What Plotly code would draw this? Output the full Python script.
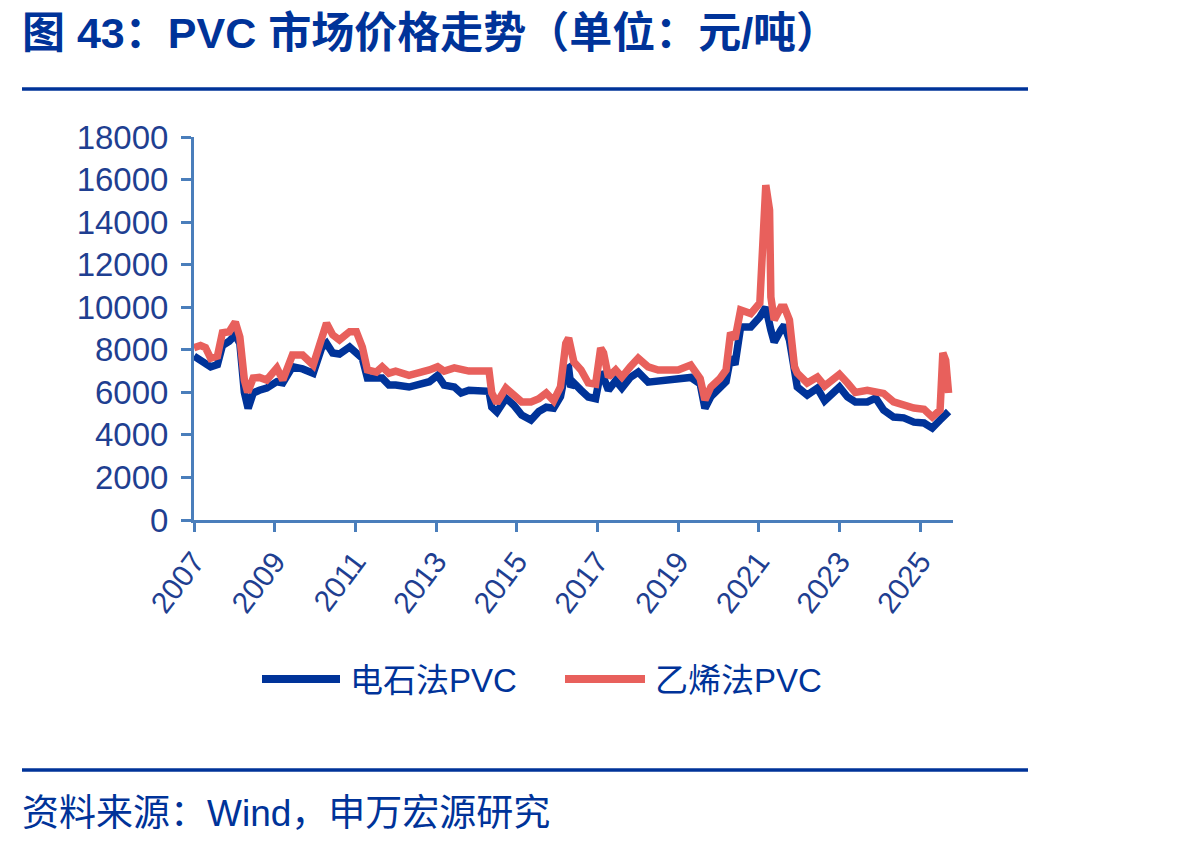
import plotly.graph_objects as go

# ---------------- data ----------------
carbide_dates = [
    "2007-01-01", "2007-03-01", "2007-06-01", "2007-08-01", "2007-09-15", "2007-11-15",
    "2008-01-10", "2008-02-20", "2008-04-01", "2008-05-05", "2008-06-20", "2008-08-15",
    "2008-10-20", "2009-01-20", "2009-03-15", "2009-06-10", "2009-09-10", "2009-12-15",
    "2010-03-01", "2010-04-15", "2010-06-10", "2010-08-10", "2010-11-10", "2011-01-10",
    "2011-03-05", "2011-04-20", "2011-07-10", "2011-09-01", "2011-11-01", "2012-01-01",
    "2012-05-01", "2012-08-01", "2012-11-01", "2013-01-15", "2013-03-15", "2013-06-15",
    "2013-08-15", "2013-10-25", "2014-01-25", "2014-04-25", "2014-05-20", "2014-07-05",
    "2014-09-25", "2014-12-05", "2015-02-15", "2015-05-10", "2015-07-20", "2015-09-25",
    "2015-12-01", "2016-02-01", "2016-03-20", "2016-04-15", "2016-05-05", "2016-06-01",
    "2016-08-05", "2016-10-10", "2016-12-15", "2017-01-30", "2017-02-25", "2017-04-10",
    "2017-06-15", "2017-08-10", "2017-10-25", "2018-01-05", "2018-04-05", "2018-07-05",
    "2018-10-05", "2019-01-01", "2019-04-25", "2019-07-20", "2019-09-01", "2019-10-25",
    "2020-01-15", "2020-03-10", "2020-04-20", "2020-05-30", "2020-07-20", "2020-10-20",
    "2021-01-10", "2021-03-05", "2021-04-20", "2021-05-20", "2021-07-20", "2021-08-20",
    "2021-10-05", "2021-11-20", "2021-12-15", "2022-03-15", "2022-06-15", "2022-08-20",
    "2023-01-01", "2023-03-15", "2023-05-25", "2023-09-10", "2023-11-25", "2024-02-05",
    "2024-05-05", "2024-08-05", "2024-11-05", "2025-02-05", "2025-04-20", "2025-06-30",
    "2025-08-20", "2025-09-15",
]
carbide_values = [
    7700, 7500, 7200, 7300, 8200, 8400,
    8700, 8300, 6000, 5250, 5970, 6100,
    6200, 6500, 6450, 7200, 7100, 6900,
    8080, 8300, 7850, 7800, 8130, 7850,
    7600, 6670, 6650, 6670, 6340, 6340,
    6250, 6340, 6500, 6800, 6340, 6250,
    5970, 6100, 6050, 6050, 5300, 5080,
    5730, 5400, 4930, 4700, 5100, 5300,
    5250, 5800, 7050, 7140, 6250, 6440,
    6100, 5780, 5700, 6950, 6700, 6100,
    6550, 6200, 6700, 6950, 6480, 6550,
    6550, 6600, 6700, 6400, 5250, 5800,
    6300, 6500, 7650, 7300, 9070, 9070,
    9540, 10000, 8930, 8360, 8930, 9150,
    8460, 6580, 6250, 5870, 6200, 5600,
    6250, 5780, 5550, 5550, 5730, 5170,
    4840, 4800, 4600, 4560, 4320, 4700,
    5030, 5100,
]

ethylene_dates = [
    "2007-01-01", "2007-03-01", "2007-04-15", "2007-06-01", "2007-08-01", "2007-09-15",
    "2007-11-15", "2008-01-10", "2008-02-20", "2008-04-01", "2008-05-01", "2008-06-20",
    "2008-08-15", "2008-10-20", "2009-01-20", "2009-03-15", "2009-06-10", "2009-09-10",
    "2009-12-15", "2010-03-01", "2010-04-15", "2010-06-10", "2010-08-10", "2010-11-10",
    "2011-01-10", "2011-03-05", "2011-04-20", "2011-07-10", "2011-09-01", "2011-11-01",
    "2012-01-01", "2012-05-01", "2012-08-01", "2012-11-01", "2013-01-15", "2013-03-15",
    "2013-06-15", "2013-08-15", "2013-10-25", "2014-01-25", "2014-04-25", "2014-05-20",
    "2014-07-05", "2014-09-25", "2014-12-05", "2015-02-15", "2015-05-10", "2015-07-20",
    "2015-09-25", "2015-12-01", "2016-02-01", "2016-03-20", "2016-04-15", "2016-05-05",
    "2016-06-01", "2016-08-05", "2016-10-10", "2016-12-15", "2017-01-30", "2017-02-25",
    "2017-04-10", "2017-06-15", "2017-08-10", "2017-10-25", "2018-01-05", "2018-04-05",
    "2018-07-05", "2018-10-05", "2019-01-01", "2019-04-25", "2019-07-20", "2019-09-01",
    "2019-10-25", "2020-01-15", "2020-03-10", "2020-04-20", "2020-05-30", "2020-07-20",
    "2020-10-20", "2021-01-10", "2021-02-05", "2021-03-05", "2021-04-08", "2021-04-20",
    "2021-05-20", "2021-07-20", "2021-08-20", "2021-10-05", "2021-11-20", "2021-12-15",
    "2022-03-15", "2022-06-15", "2022-08-20", "2023-01-01", "2023-03-15", "2023-05-25",
    "2023-09-10", "2023-11-25", "2024-02-05", "2024-05-05", "2024-08-05", "2024-11-05",
    "2025-02-05", "2025-04-20", "2025-06-30", "2025-07-25", "2025-08-20", "2025-09-15",
]
ethylene_values = [
    8100, 8200, 8100, 7600, 7700, 8800,
    8850, 9300, 8600, 6580, 6000, 6670,
    6700, 6580, 7140, 6580, 7750, 7750,
    7280, 8460, 9250, 8700, 8460, 8850,
    8850, 8130, 7050, 6950, 7200, 6900,
    7000, 6800, 6900, 7050, 7200, 7000,
    7150, 7050, 7000, 7000, 7000, 5970,
    5500, 6200, 5860, 5550, 5550, 5700,
    5970, 5600, 6250, 8300, 8550, 8000,
    7430, 7050, 6440, 6380, 8080, 7850,
    6720, 7050, 6720, 7200, 7600, 7200,
    7050, 7050, 7050, 7280, 6650, 5640,
    6250, 6650, 7050, 8800, 8500, 9870,
    9700, 10200, 13300, 15740, 14570, 10480,
    9400, 10000, 10000, 9400, 7200, 6900,
    6440, 6720, 6300, 6850, 6440, 6000,
    6100, 6000, 5950, 5550, 5400, 5260,
    5200, 4840, 5170, 7850, 7500, 5970,
]

series_names = ["电石法PVC", "乙烯法PVC"]
year_ticks = ["2007", "2009", "2011", "2013", "2015", "2017", "2019", "2021", "2023", "2025"]
y_ticks = [0, 2000, 4000, 6000, 8000, 10000, 12000, 14000, 16000, 18000]

title_text = "图 43：PVC 市场价格走势（单位：元/吨）"
source_text = "资料来源：Wind，申万宏源研究"

# ---------------- styling ----------------
BLUE = "#003399"
RED = "#E8605C"
AXIS = "#4A7EBB"
TICKTXT = "#1F3F91"
W, H = 1198, 846
L, R, T, B = 194, 245, 137, 326
PW, PH = W - L - R, H - T - B


def px(x):
    return (x - L) / PW


def py(y):
    return (H - B - y) / PH


fig = go.Figure()
fig.add_trace(go.Scatter(x=carbide_dates, y=carbide_values, mode="lines",
                         name=series_names[0], line=dict(color=BLUE, width=7.5),
                         showlegend=False))
fig.add_trace(go.Scatter(x=ethylene_dates, y=ethylene_values, mode="lines",
                         name=series_names[1], line=dict(color=RED, width=7.5),
                         showlegend=False))

shapes = [
    dict(type="line", xref="paper", yref="paper", x0=px(22), x1=px(1028), y0=py(89), y1=py(89),
         line=dict(color=BLUE, width=3.5)),
    dict(type="line", xref="paper", yref="paper", x0=px(22), x1=px(1028), y0=py(770), y1=py(770),
         line=dict(color=BLUE, width=3.5)),
    dict(type="line", xref="paper", yref="paper", x0=px(262), x1=px(340), y0=py(679), y1=py(679),
         line=dict(color=BLUE, width=8)),
    dict(type="line", xref="paper", yref="paper", x0=px(565), x1=px(645), y0=py(679), y1=py(679),
         line=dict(color=RED, width=8)),
]

CJK = "Liberation Sans, Arial, Noto Sans CJK SC, sans-serif"
annotations = [
    dict(text="<b>" + title_text + "</b>", xref="paper", yref="paper", x=px(20), y=py(33),
         xanchor="left", yanchor="middle", showarrow=False,
         font=dict(family=CJK, size=43, color=BLUE)),
    dict(text=source_text, xref="paper", yref="paper", x=px(20), y=py(813),
         xanchor="left", yanchor="middle", showarrow=False,
         font=dict(family=CJK, size=37, color=BLUE)),
    dict(text=series_names[0], xref="paper", yref="paper", x=px(348), y=py(680),
         xanchor="left", yanchor="middle", showarrow=False,
         font=dict(family=CJK, size=33, color=BLUE)),
    dict(text=series_names[1], xref="paper", yref="paper", x=px(653), y=py(680),
         xanchor="left", yanchor="middle", showarrow=False,
         font=dict(family=CJK, size=33, color=BLUE)),
]

fig.update_layout(
    width=W, height=H,
    margin=dict(l=L, r=R, t=T, b=B, pad=0),
    paper_bgcolor="white", plot_bgcolor="white",
    shapes=shapes, annotations=annotations,
    showlegend=False,
    xaxis=dict(
        type="date", range=["2007-01-01", "2025-10-25"],
        tickvals=[y + "-01-01" for y in year_ticks], ticktext=year_ticks,
        tickangle=-53, ticks="outside", ticklen=9, tickwidth=2.5, tickcolor=AXIS,
        showline=True, linecolor=AXIS, linewidth=3, showgrid=False, zeroline=False,
        tickfont=dict(family="Liberation Sans, Arial", size=30, color=TICKTXT),
    ),
    yaxis=dict(
        range=[0, 18000], tickvals=y_ticks, ticktext=[str(v) for v in y_ticks],
        ticks="outside", ticklen=10, tickwidth=2.5, tickcolor=AXIS,
        showline=True, linecolor=AXIS, linewidth=3, showgrid=False, zeroline=False,
        tickfont=dict(family="Liberation Sans, Arial", size=33, color=TICKTXT),
        ticklabelstandoff=6,
    ),
)

fig.write_html("out.html")
